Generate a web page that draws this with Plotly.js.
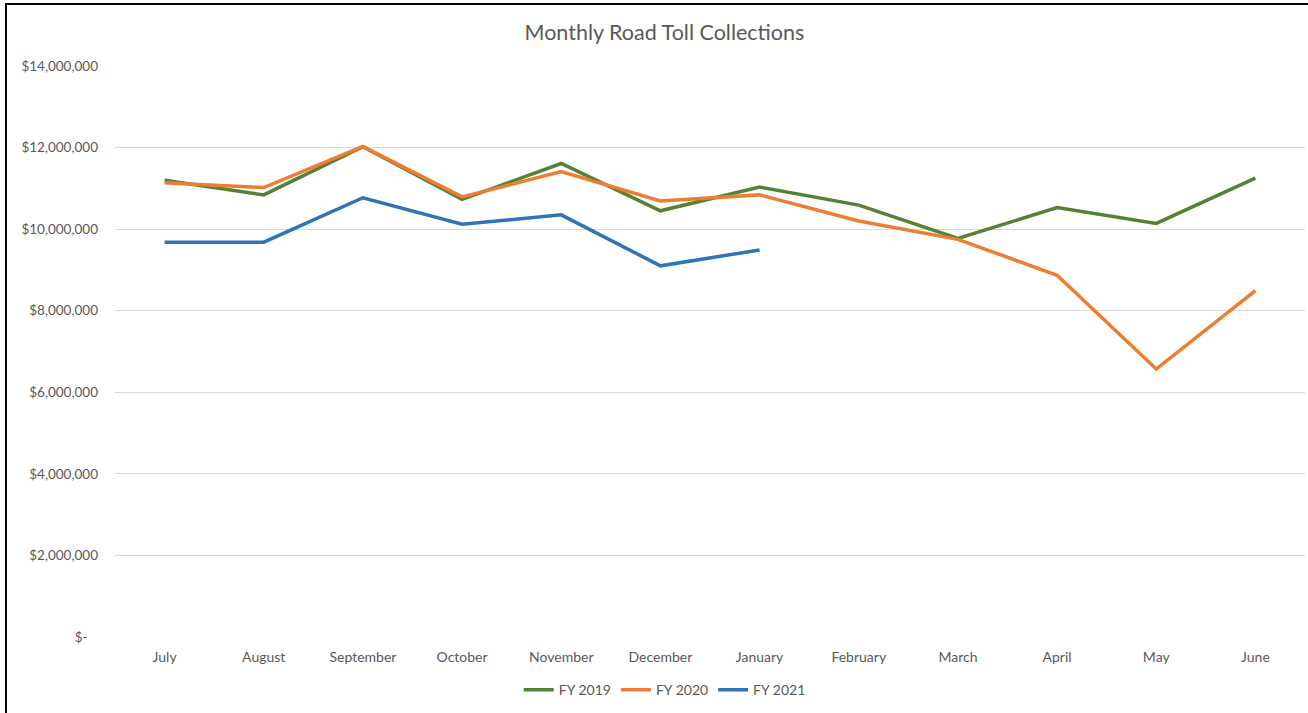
<!DOCTYPE html>
<html>
<head>
<meta charset="utf-8">
<script src="https://cdn.plot.ly/plotly-3.0.1.min.js"></script>
<style>
  html, body { margin: 0; padding: 0; background: #fff; }
  #chart { width: 1308px; height: 713px; position: absolute; left: 0; top: 0; }
  #bl { position: absolute; left: 5px; top: 3px; width: 2px; height: 710px; background: #000; }
  #bt { position: absolute; left: 5px; top: 3px; width: 1303px; height: 2px; background: #000; }
</style>
</head>
<body>
<div id="chart"></div>
<div id="bl"></div>
<div id="bt"></div>
<script>
const months = ["July","August","September","October","November","December","January","February","March","April","May","June"];
const fy2019 = [11200000,10840000,12020000,10730000,11610000,10450000,11030000,10590000,9770000,10530000,10140000,11250000];
const fy2020 = [11140000,11020000,12030000,10790000,11410000,10690000,10840000,10200000,9750000,8870000,6570000,8490000];
const fy2021 = [9680000,9680000,10770000,10120000,10350000,9100000,9490000];
const yTickVals = [0,2000000,4000000,6000000,8000000,10000000,12000000,14000000];
const yTickText = ["$-\u00a0\u00a0\u00a0","$2,000,000","$4,000,000","$6,000,000","$8,000,000","$10,000,000","$12,000,000","$14,000,000"];

const seriesNames = ["FY 2019","FY 2020","FY 2021"];
const colors = ["#548235","#ED7D31","#2E75B6"];
const data = [fy2019, fy2020, fy2021].map((vals, i) => ({
  type: "scatter",
  mode: "lines",
  name: seriesNames[i],
  x: months.slice(0, vals.length),
  y: vals,
  line: { color: colors[i], width: 3.5 },
  hoverinfo: "x+y+name"
}));

const layout = {
  width: 1308, height: 713,
  margin: { l: 115, r: 3, t: 66, b: 76 },
  paper_bgcolor: "#ffffff",
  plot_bgcolor: "#ffffff",
  font: { family: "Lato, 'Open Sans', sans-serif", color: "#595959", size: 14 },
  title: {
    text: "Monthly Road Toll Collections",
    font: { size: 21.5, color: "#595959", family: "Lato, 'Open Sans', sans-serif" },
    x: 0.508, xanchor: "center", y: 0.954, yanchor: "middle"
  },
  xaxis: {
    type: "category",
    categoryorder: "array",
    categoryarray: months,
    range: [-0.5, 11.5],
    showgrid: false,
    zeroline: false,
    showline: false,
    ticks: "",
    ticklabelstandoff: 10,
    tickfont: { size: 14, color: "#595959" },
    fixedrange: true
  },
  yaxis: {
    range: [0, 14000000],
    tickvals: yTickVals,
    ticktext: yTickText,
    showgrid: true,
    gridcolor: "#D9D9D9",
    gridwidth: 1,
    zeroline: false,
    showline: false,
    ticks: "",
    ticklabelstandoff: 16,
    tickfont: { size: 13.5, color: "#595959" },
    fixedrange: true
  },
  legend: {
    orientation: "h",
    x: 0.462, xanchor: "center",
    y: -0.093, yanchor: "middle",
    font: { size: 14, color: "#595959" },
    itemwidth: 30,
    tracegroupgap: 0
  },
  showlegend: true
};

Plotly.newPlot("chart", data, layout, { displayModeBar: false, staticPlot: true });
</script>
</body>
</html>
